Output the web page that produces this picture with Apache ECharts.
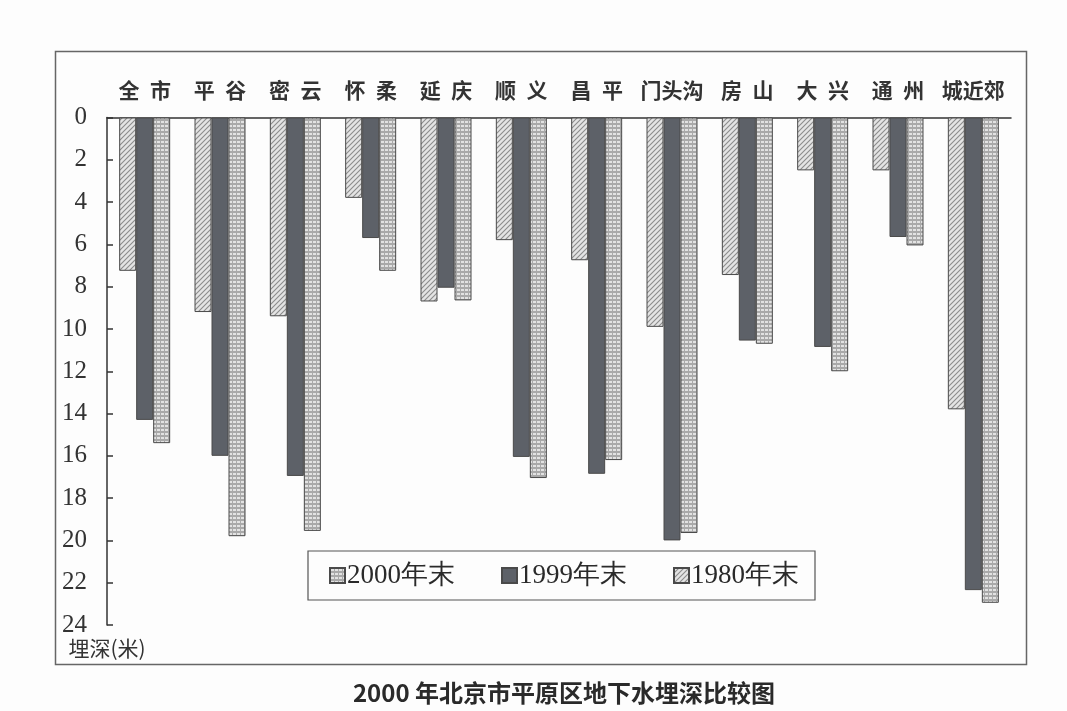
<!DOCTYPE html>
<html>
<head>
<meta charset="utf-8">
<script src="https://cdn.jsdelivr.net/npm/echarts@6/dist/echarts.min.js"></script>
<style>
  html, body { margin: 0; padding: 0; background: #fdfdfd; }
  #chart { width: 1067px; height: 711px; }
</style>
</head>
<body>
<div id="chart"></div>
<script>
// 平原区各区县地下水埋深（米）
const districts = ['全市', '平谷', '密云', '怀柔', '延庆', '顺义', '昌平', '门头沟', '房山', '大兴', '通州', '城近郊'];
const depth1980 = [7.25, 9.2, 9.4, 3.8, 8.7, 5.8, 6.75, 9.9, 7.45, 2.5, 2.5, 13.8];
const depth1999 = [14.3, 16.0, 16.95, 5.7, 8.05, 16.05, 16.85, 20.0, 10.55, 10.85, 5.65, 22.35];
const depth2000 = [15.4, 19.8, 19.55, 7.25, 8.65, 17.05, 16.2, 19.65, 10.7, 12.0, 6.05, 22.95];
const seriesNames = ['1980年末', '1999年末', '2000年末'];
const legendOrder = ['2000年末', '1999年末', '1980年末'];
const depthTicks = [0, 2, 4, 6, 8, 10, 12, 14, 16, 18, 20, 22, 24];
const chartTitle = '2000 年北京市平原区地下水埋深比较图';
const axisTitle = '埋深(米)';

const serifFont = "'Liberation Serif', 'DejaVu Serif', serif";
const cjkFont = "'Noto Sans CJK SC', sans-serif";

// 斜线填充
function hatchPattern() {
  const c = document.createElement('canvas');
  c.width = 5; c.height = 5;
  const g = c.getContext('2d');
  g.fillStyle = '#e4e4e4';
  g.fillRect(0, 0, 5, 5);
  g.strokeStyle = '#8c8c8c';
  g.lineWidth = 1.1;
  g.beginPath();
  g.moveTo(-1, 6); g.lineTo(6, -1);
  g.moveTo(-1, 1); g.lineTo(1, -1);
  g.moveTo(4, 6); g.lineTo(6, 4);
  g.stroke();
  return c;
}
// 网格填充
function gridPattern() {
  const c = document.createElement('canvas');
  c.width = 4; c.height = 4;
  const g = c.getContext('2d');
  g.fillStyle = '#a9a9a9';
  g.fillRect(0, 0, 4, 4);
  g.fillStyle = '#e2e2e2';
  g.fillRect(1, 1, 3, 2);
  return c;
}

const fills = [
  { image: hatchPattern(), repeat: 'repeat' },
  '#5d6168',
  { image: gridPattern(), repeat: 'repeat' }
];
const values = [depth1980, depth1999, depth2000];

const chart = echarts.init(document.getElementById('chart'), null, { renderer: 'canvas' });

const option = {
  backgroundColor: '#fdfdfd',
  animation: false,
  title: {
    text: chartTitle,
    left: 559,
    top: 676,
    textAlign: 'center',
    textStyle: { fontFamily: cjkFont, fontSize: 24, fontWeight: 'bold', color: '#2a2a2a' }
  },
  legend: {
    data: legendOrder,
    left: 308,
    top: 551,
    padding: [11, 16, 11, 21],
    itemGap: 46,
    itemWidth: 15,
    itemHeight: 15,
    icon: 'rect',
    borderColor: '#555',
    borderWidth: 1.2,
    backgroundColor: '#fdfdfd',
    textStyle: { fontFamily: serifFont, fontSize: 27, color: '#2a2a2a', padding: [0, 0, 0, -3] }
  },
  grid: { left: 107, top: 117.5, right: 56, bottom: 86, containLabel: false },
  xAxis: {
    type: 'category',
    data: districts,
    position: 'top',
    axisLine: { lineStyle: { color: '#333', width: 1.5 } },
    axisTick: { inside: true, length: 6, lineStyle: { color: '#333', width: 1.5 } },
    axisLabel: {
      interval: 0,
      margin: 17,
      fontFamily: cjkFont,
      fontSize: 21,
      fontWeight: 'bold',
      color: '#333',
      formatter: n => n.length === 2 ? n[0] + '\u2002' + n[1] : n
    }
  },
  yAxis: {
    type: 'value',
    inverse: true,
    min: 0,
    max: 24,
    interval: 2,
    name: axisTitle,
    nameLocation: 'end',
    nameGap: 8,
    nameTextStyle: { fontFamily: cjkFont, fontSize: 21, color: '#333' },
    axisLine: { show: true, lineStyle: { color: '#333', width: 1.5 } },
    axisTick: { show: true, inside: true, length: 6, lineStyle: { color: '#333', width: 1.5 } },
    splitLine: { show: false },
    axisLabel: {
      margin: 20,
      fontFamily: serifFont,
      fontSize: 25,
      color: '#333',
      formatter: v => depthTicks.includes(v) ? String(v) : ''
    }
  },
  series: seriesNames.map((name, i) => ({
    name: name,
    type: 'bar',
    data: values[i],
    barWidth: 17,
    barGap: '0%',
    itemStyle: { color: fills[i], borderColor: '#4a4a4a', borderWidth: 1 }
  })),
  graphic: [{
    type: 'rect',
    shape: { x: 55.5, y: 51.5, width: 971, height: 613 },
    style: { fill: null, stroke: '#666', lineWidth: 1.5 },
    z: 0
  }]
};

chart.setOption(option);
</script>
</body>
</html>
